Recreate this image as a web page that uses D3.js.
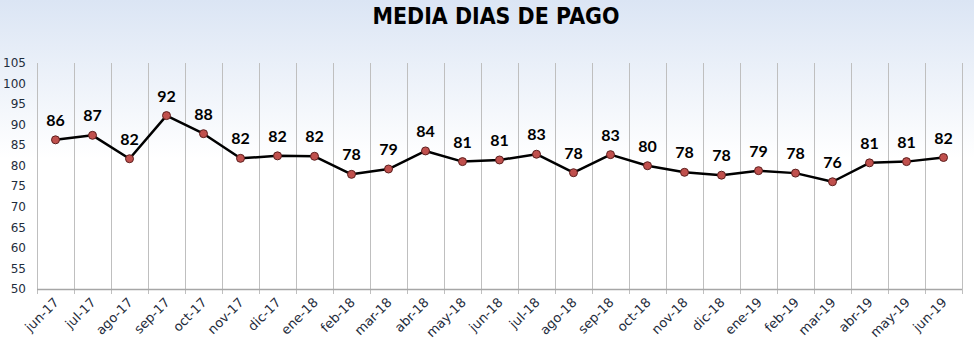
<!DOCTYPE html>
<html>
<head>
<meta charset="utf-8">
<script src="https://cdn.jsdelivr.net/npm/d3@7"></script>
<style>
  html, body { margin: 0; padding: 0; background: #fff; }
  svg { display: block; }
</style>
</head>
<body>
<div id="chart"></div>
<script>
// Months shown on the x axis
const months = ['jun-17', 'jul-17', 'ago-17', 'sep-17', 'oct-17', 'nov-17', 'dic-17', 'ene-18',
    'feb-18', 'mar-18', 'abr-18', 'may-18', 'jun-18', 'jul-18', 'ago-18', 'sep-18', 'oct-18',
    'nov-18', 'dic-18', 'ene-19', 'feb-19', 'mar-19', 'abr-19', 'may-19', 'jun-19'];

// Average payment days per month
const mediaDias = [86.3, 87.4, 81.7, 92.2, 87.8, 81.8, 82.4, 82.3,
    77.9, 79.2, 83.6, 81.0, 81.4, 82.8, 78.3, 82.7, 80.0,
    78.4, 77.7, 78.8, 78.2, 76.1, 80.7, 81.0, 82.0];

const yTicks = [50, 55, 60, 65, 70, 75, 80, 85, 90, 95, 100, 105];

const width = 974;
const height = 353;
const margin = { top: 63, right: 12, bottom: 64, left: 37 };

const svg = d3.select('#chart')
    .append('svg')
    .attr('width', width)
    .attr('height', height);

// Background gradient
const defs = svg.append('defs');
const bg = defs.append('linearGradient')
    .attr('id', 'bg')
    .attr('x1', '0%').attr('y1', '0%')
    .attr('x2', '0%').attr('y2', '100%');
bg.append('stop').attr('offset', '0%').attr('stop-color', '#dbe5f4');
bg.append('stop').attr('offset', '45%').attr('stop-color', '#ffffff');
bg.append('stop').attr('offset', '100%').attr('stop-color', '#ffffff');

svg.append('rect')
    .attr('width', width)
    .attr('height', height)
    .attr('fill', 'url(#bg)');

// Title
svg.append('text')
    .attr('x', 496)
    .attr('y', 24)
    .attr('text-anchor', 'middle')
    .attr('font-family', '"DejaVu Sans", sans-serif')
    .attr('font-weight', 'bold')
    .attr('font-size', 23)
    .attr('textLength', 247)
    .attr('lengthAdjust', 'spacingAndGlyphs')
    .attr('fill', '#000')
    .text('MEDIA DIAS DE PAGO');

const x = d3.scaleBand()
    .domain(months)
    .range([margin.left, width - margin.right])
    .padding(0);

const y = d3.scaleLinear()
    .domain([50, 105])
    .range([height - margin.bottom, margin.top]);

// Vertical gridlines at category boundaries
const bounds = months.map(m => x(m)).concat([x(months[months.length - 1]) + x.bandwidth()]);
svg.append('g')
    .selectAll('line')
    .data(bounds)
    .enter()
    .append('line')
    .attr('x1', d => Math.round(d) + 0.5)
    .attr('x2', d => Math.round(d) + 0.5)
    .attr('y1', y(105))
    .attr('y2', y(50) + 5)
    .attr('stroke', '#bfbfbf')
    .attr('stroke-width', 1);

// X axis line
svg.append('line')
    .attr('x1', margin.left)
    .attr('x2', width - margin.right)
    .attr('y1', Math.round(y(50)) + 0.5)
    .attr('y2', Math.round(y(50)) + 0.5)
    .attr('stroke', '#a6a6a6')
    .attr('stroke-width', 1.5);

// Y axis labels
svg.append('g')
    .selectAll('text')
    .data(yTicks)
    .enter()
    .append('text')
    .attr('x', 26)
    .attr('y', d => y(d))
    .attr('dy', '0.35em')
    .attr('text-anchor', 'end')
    .attr('font-family', '"DejaVu Sans", sans-serif')
    .attr('font-size', 12)
    .attr('fill', '#1f2d3d')
    .text(d => d);

// X axis labels
svg.append('g')
    .selectAll('text')
    .data(months)
    .enter()
    .append('text')
    .attr('transform', d => `translate(${x(d) + x.bandwidth() / 2 + 1},${y(50) + 11}) rotate(-45)`)
    .attr('text-anchor', 'end')
    .attr('dy', '0.35em')
    .attr('font-family', '"DejaVu Sans", sans-serif')
    .attr('font-size', 13)
    .attr('fill', '#1f2d3d')
    .text(d => d);

// Line
const line = d3.line()
    .x((d, i) => x(months[i]) + x.bandwidth() / 2)
    .y(d => y(d));

svg.append('path')
    .datum(mediaDias)
    .attr('d', line)
    .attr('fill', 'none')
    .attr('stroke', '#000')
    .attr('stroke-width', 2.5)
    .attr('stroke-linejoin', 'round');

// Markers
svg.append('g')
    .selectAll('circle')
    .data(mediaDias)
    .enter()
    .append('circle')
    .attr('cx', (d, i) => x(months[i]) + x.bandwidth() / 2)
    .attr('cy', d => y(d))
    .attr('r', 4)
    .attr('fill', '#c0504d')
    .attr('stroke', '#5c1f1e')
    .attr('stroke-width', 1);

// Data labels
svg.append('g')
    .selectAll('text')
    .data(mediaDias)
    .enter()
    .append('text')
    .attr('x', (d, i) => x(months[i]) + x.bandwidth() / 2)
    .attr('y', d => y(d) - 14)
    .attr('text-anchor', 'middle')
    .attr('font-family', 'Lato, "Open Sans", sans-serif')
    .attr('font-weight', 'bold')
    .attr('font-size', 16)
    .attr('fill', '#000')
    .text(d => d3.format('.0f')(d));
</script>
</body>
</html>
